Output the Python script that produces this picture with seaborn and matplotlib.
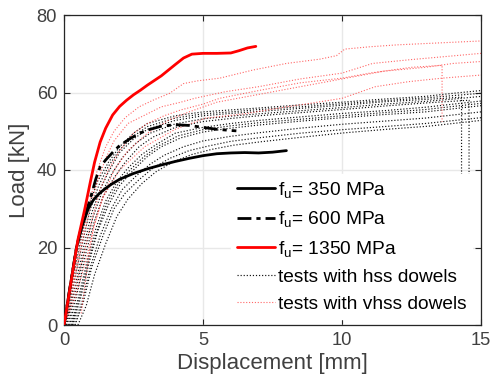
import matplotlib
matplotlib.use("Agg")
import matplotlib.pyplot as plt
import seaborn as sns
import pandas as pd

# ---------------- data ----------------
# model curves
m350_x = [0, 0.2, 0.45, 0.65, 0.87, 1.05, 1.25, 1.45, 1.7, 2.0, 2.5, 3.0, 3.5, 4.0, 4.5, 5.0, 5.5, 6.0, 6.5, 7.0, 7.5, 8.0]
m350_y = [0, 9, 20, 25.5, 30, 32.2, 33.8, 35.0, 36.3, 37.6, 39.1, 40.3, 41.3, 42.2, 43.0, 43.7, 44.2, 44.4, 44.5, 44.4, 44.6, 45.0]

m600_x = [0, 0.2, 0.45, 0.65, 0.82, 1.0, 1.15, 1.3, 1.5, 1.77, 2.0, 2.4, 2.73, 3.0, 3.5, 4.0, 4.5, 5.0, 5.5, 6.0, 6.2]
m600_y = [0, 9, 20, 26, 29.7, 34, 37.8, 40.8, 42.6, 44.7, 46.3, 48.2, 49.5, 50.3, 51.3, 51.7, 51.5, 51.0, 50.5, 50.2, 50.1]

m1350_x = [0, 0.25, 0.5, 0.75, 0.95, 1.1, 1.3, 1.5, 1.75, 2.0, 2.25, 2.5, 2.75, 3.0, 3.5, 4.0, 4.3, 4.6, 5.0, 5.5, 6.0, 6.3, 6.6, 6.9]
m1350_y = [0, 11, 22, 30, 37, 42, 47.2, 50.8, 54.2, 56.4, 58.0, 59.4, 60.6, 61.9, 64.3, 67.2, 68.9, 69.9, 70.1, 70.1, 70.2, 70.8, 71.5, 71.9]

# tests with hss dowels (black dotted)
hss_x = [
    [0.05, 0.3, 0.6, 0.9, 1.2, 1.6, 2.0, 2.5, 3.0, 4.0, 5.0, 6.0, 7.0, 8.5, 10.0, 11.5, 13.0, 14.0, 15.0],
    [0.08, 0.35, 0.65, 0.95, 1.25, 1.6, 2.0, 2.5, 3.0, 4.0, 5.0, 6.0, 7.0, 8.5, 10.0, 11.5, 13.0, 14.0, 15.0],
    [0.1, 0.4, 0.7, 1.0, 1.3, 1.6, 2.0, 2.5, 3.0, 4.0, 5.0, 6.0, 7.0, 8.5, 10.0, 11.5, 13.0, 14.3, 14.3],
    [0.15, 0.45, 0.75, 1.05, 1.35, 1.7, 2.1, 2.6, 3.1, 4.0, 5.0, 6.0, 7.0, 8.5, 10.0, 11.5, 13.0, 14.0, 15.0],
    [0.2, 0.5, 0.8, 1.1, 1.4, 1.8, 2.2, 2.7, 3.2, 4.0, 5.0, 6.0, 7.0, 8.5, 10.0, 11.5, 13.0, 14.57, 14.57],
    [0.25, 0.55, 0.85, 1.15, 1.5, 1.9, 2.3, 2.8, 3.3, 4.0, 5.0, 6.0, 7.0, 8.5, 10.0, 11.5, 13.0, 15.0],
    [0.28, 0.58, 0.88, 1.2, 1.55, 1.95, 2.4, 2.9, 3.4, 4.1, 5.0, 6.0, 7.0, 8.5, 10.0, 11.5, 13.0, 15.0],
    [0.3, 0.6, 0.9, 1.2, 1.6, 2.0, 2.5, 3.0, 3.5, 4.2, 5.0, 6.0, 7.0, 8.5, 10.0, 11.5, 13.0, 15.0],
    [0.35, 0.65, 0.95, 1.3, 1.7, 2.1, 2.6, 3.1, 3.6, 4.3, 5.0, 6.0, 7.0, 8.5, 10.0, 11.5, 13.0, 15.0],
    [0.4, 0.7, 1.0, 1.4, 1.8, 2.2, 2.7, 3.2, 3.8, 4.5, 5.2, 6.0, 7.0, 8.5, 10.0, 11.5, 13.0, 15.0],
    [0.5, 0.8, 1.1, 1.5, 1.9, 2.3, 2.8, 3.3, 3.9, 4.6, 5.3, 6.1, 7.1, 8.6, 10.1, 11.6, 13.1, 15.0],
]
hss_y = [
    [0, 11, 22, 31, 37, 42, 46, 49.5, 52, 54, 55, 55.5, 56, 56.8, 57.5, 58.3, 59, 59.8, 60.5],
    [0, 10.5, 21, 30, 36, 41, 45.2, 48.7, 51.2, 53.4, 54.5, 55.0, 55.6, 56.3, 57.1, 57.9, 58.6, 59.2, 59.8],
    [0, 10, 20, 29, 35, 39.5, 44.5, 48, 50.5, 52.8, 54, 54.6, 55.1, 55.9, 56.7, 57.6, 58.2, 58.8, 30],
    [0, 9.5, 19.5, 28, 34, 38.8, 43.2, 47, 49.5, 51.9, 53.2, 53.9, 54.5, 55.3, 56.1, 57.0, 57.7, 58.3, 59.0],
    [0, 9, 19, 27, 33, 38, 42, 46, 48.5, 51, 52.5, 53.3, 54, 54.8, 55.6, 56.5, 57.3, 58, 30],
    [0, 8, 17, 25, 32, 37, 40.5, 44, 46.5, 49.5, 51, 52, 52.8, 53.7, 54.6, 55.3, 56.2, 57.8],
    [0, 7.5, 16.5, 24.5, 31.5, 36.5, 40.2, 43.6, 46.2, 48.8, 50.4, 51.4, 52.2, 53.1, 54.0, 54.8, 55.6, 57.2],
    [0, 7, 16, 24, 31, 36, 40, 43.5, 46, 48.3, 49.8, 50.8, 51.6, 52.6, 53.5, 54.3, 55, 56.6],
    [0, 6, 15, 23, 30, 35, 38.5, 41.5, 43.8, 46, 47.5, 48.7, 49.6, 50.8, 51.8, 52.6, 53.4, 55],
    [0, 6, 15, 23, 30, 34, 37.5, 40.5, 43, 45, 46.2, 47.4, 48.3, 49.5, 50.4, 51.2, 52, 53.5],
    [0, 5, 13, 21, 28, 32.5, 36.5, 39.5, 42, 44, 45.3, 46.4, 47.3, 48.5, 49.6, 50.5, 51.3, 52.8],
]

# tests with vhss dowels (red dotted)
vhss_x = [
    [0, 0.3, 0.6, 0.9, 1.2, 1.5, 1.8, 2.2, 2.7, 3.2, 3.8, 4.3, 4.8, 5.6, 6.8, 8.0, 9.2, 9.8, 10.1, 11.0, 12.0, 13.5, 15.0],
    [0, 0.3, 0.6, 0.9, 1.2, 1.5, 1.8, 2.3, 3.0, 3.5, 4.2, 4.7, 5.8, 7.0, 8.5, 10.0, 11.1, 12.5, 13.6, 15.0],
    [0, 0.35, 0.7, 1.0, 1.3, 1.6, 2.0, 2.5, 3.0, 3.6, 4.2, 5.0, 5.6, 7.0, 8.5, 10.0, 11.0, 12.5, 13.6, 13.6],
    [0, 0.4, 0.8, 1.1, 1.4, 1.8, 2.3, 3.0, 3.8, 4.5, 5.5, 7.0, 8.5, 10.0, 11.5, 13.0, 14.0, 15.0],
    [0.62, 0.8, 1.05, 1.4, 2.0, 2.9, 4.0, 5.1, 6.5, 8.0, 8.85, 10.0, 11.2, 12.4, 13.6, 15.0],
]
vhss_y = [
    [0, 10, 21, 31, 40, 46, 50, 53.5, 56.3, 58, 59.8, 62.3, 63, 63.7, 65.8, 67.5, 68.6, 69.5, 71.2, 71.8, 72.3, 72.8, 73.3],
    [0, 9, 19, 29, 37, 43, 47.5, 52, 54.5, 56.3, 57.5, 58.5, 60.2, 61.5, 63.5, 65, 67.5, 68.5, 69.2, 70.1],
    [0, 8, 18, 27, 35, 40, 45, 49.5, 52, 54, 55.5, 57, 58.5, 60.5, 62.5, 63.7, 65.0, 66.5, 67, 52.4],
    [0, 7, 17, 26, 33, 40, 45, 49.5, 53, 55, 57.5, 59.5, 61.5, 63.5, 65.5, 66.5, 67.5, 68],
    [3, 13, 25, 33, 40, 46, 50.5, 53.4, 54.5, 56.3, 57.2, 58.5, 61.5, 62.8, 63.7, 64.5],
]

labels = ["f$_\\mathregular{u}$= 350 MPa", "f$_\\mathregular{u}$= 600 MPa",
          "f$_\\mathregular{u}$= 1350 MPa", "tests with hss dowels", "tests with vhss dowels"]
x_ticks = [0, 5, 10, 15]
y_ticks = [0, 20, 40, 60, 80]
x_label = "Displacement [mm]"
y_label = "Load [kN]"

# ---------------- style ----------------
sns.set_theme(style="white")
plt.rcParams["font.family"] = ["Liberation Sans", "DejaVu Sans"]
plt.rcParams["mathtext.default"] = "regular"
plt.rcParams["mathtext.fontset"] = "custom"
plt.rcParams["mathtext.rm"] = "Liberation Sans"

fig = plt.figure(figsize=(4.91, 3.81), dpi=100)
ax = fig.add_axes([64 / 491, 1 - 325 / 381, 417 / 491, 310 / 381])

dot_style = (0, (1, 1.6))

h_hss = None
for xs, ys in zip(hss_x, hss_y):
    df = pd.DataFrame({"x": xs, "y": ys})
    sns.lineplot(data=df, x="x", y="y", sort=False, estimator=None, ax=ax,
                 color="#111111", linewidth=0.85, linestyle=dot_style, zorder=2)
    if h_hss is None:
        h_hss = ax.lines[-1]

h_vhss = None
for xs, ys in zip(vhss_x, vhss_y):
    df = pd.DataFrame({"x": xs, "y": ys})
    sns.lineplot(data=df, x="x", y="y", sort=False, estimator=None, ax=ax,
                 color="#ff3333", alpha=0.75, linewidth=0.8, linestyle=dot_style, zorder=2.2)
    if h_vhss is None:
        h_vhss = ax.lines[-1]

sns.lineplot(data=pd.DataFrame({"x": m600_x, "y": m600_y}), x="x", y="y", sort=False,
             estimator=None, ax=ax, color="black", linewidth=2.0, zorder=3)
h600 = ax.lines[-1]
h600.set_linestyle((0, (5, 1.8, 1.5, 1.8)))
sns.lineplot(data=pd.DataFrame({"x": m350_x, "y": m350_y}), x="x", y="y", sort=False,
             estimator=None, ax=ax, color="black", linewidth=2.0, zorder=3)
h350 = ax.lines[-1]
sns.lineplot(data=pd.DataFrame({"x": m1350_x, "y": m1350_y}), x="x", y="y", sort=False,
             estimator=None, ax=ax, color="#ff0000", linewidth=2.0, zorder=3.5)
h1350 = ax.lines[-1]

ax.set_xlim(0, 15)
ax.set_ylim(0, 80)
ax.set_xticks(x_ticks)
ax.set_yticks(y_ticks)
ax.grid(True, color="#e8e8e8", linewidth=1.0)
ax.set_axisbelow(True)

for s in ax.spines.values():
    s.set_color("#262626")
    s.set_linewidth(0.9)
    s.set_visible(True)

ax.tick_params(direction="in", length=4, width=0.8, colors="#262626",
               labelcolor="#404040", labelsize=13.2, top=True, right=True,
               bottom=True, left=True, pad=5)
ax.set_xlabel(x_label, fontsize=16, color="#404040", labelpad=3)
ax.set_ylabel(y_label, fontsize=16, color="#404040", labelpad=5)

leg = ax.legend([h350, h600, h1350, h_hss, h_vhss], labels,
                loc="lower left", bbox_to_anchor=(0.40, 0.02), frameon=True,
                fontsize=13.8, handlelength=2.0, handletextpad=0.15, labelspacing=0.5,
                borderpad=0.3, borderaxespad=0.0)
leg.get_frame().set_facecolor("white")
leg.get_frame().set_edgecolor("white")
leg.get_frame().set_alpha(1.0)
leg.get_frame().set_boxstyle("square", pad=0)
leg.set_zorder(5)
for t in leg.get_texts():
    t.set_color("black")

fig.savefig("out.png", dpi=100)
